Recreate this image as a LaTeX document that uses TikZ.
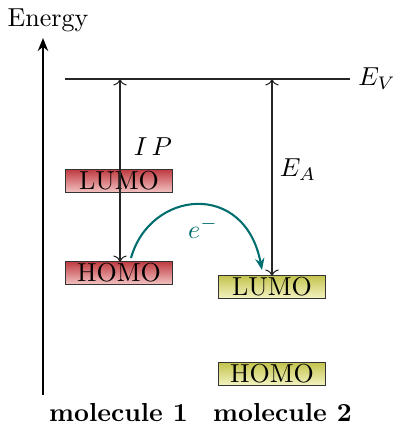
\documentclass[tikz,border=0pt]{standalone}
\usetikzlibrary{arrows.meta}
\definecolor{redtop}{RGB}{192,62,68}
\definecolor{redbot}{RGB}{242,192,192}
\definecolor{yeltop}{RGB}{196,196,80}
\definecolor{yelbot}{RGB}{242,242,192}
\definecolor{eteal}{RGB}{0,110,110}
\tikzset{
  level/.style={draw=black!80, minimum width=41.5pt, minimum height=8.5pt, inner sep=0pt, outer sep=0pt},
  redlevel/.style={level, top color=redtop, bottom color=redbot},
  yellevel/.style={level, top color=yeltop, bottom color=yelbot},
  gap/.style={<->, thin, black!85},
}
\begin{document}
\begin{tikzpicture}[x=0.3846pt, y=-0.3846pt]
\useasboundingbox (0,0) rectangle (393,427);
% energy axis
\coordinate (axb) at (43,395);
\coordinate (axt) at (43,38);
\draw[thick, -{Stealth[length=5pt,width=4pt]}] (axb) -- (axt);
\node (energy) at (48,20) {Energy};
% vacuum level
\coordinate (evl) at (65,79);
\coordinate (evr) at (350,79);
\draw[thin, black!85] (evl) -- (evr);
\node (ev) at (377,79) {$E_V$};
% levels
\node[redlevel] (lumo1) at (119,181) {LUMO};
\node[redlevel] (homo1) at (119,273) {HOMO};
\node[yellevel] (lumo2) at (272,287) {LUMO};
\node[yellevel] (homo2) at (272,374) {HOMO};
% IP and EA
\coordinate (ipt) at (120,79);
\coordinate (eat) at (272,79);
\draw[gap] (homo1.north -| ipt) -- (ipt);
\draw[gap] (lumo2.north) -- (eat);
\node (ip) at (153,147) {$I\,P$};
\node (ea) at (298,170) {$E_A$};
% electron transfer
\coordinate (es) at (131,258);
\coordinate (ee) at (262,270);
\draw[eteal, line width=0.8pt, -{Stealth[length=4.5pt,width=3.5pt]}] (es) .. controls (150,190) and (245,180) .. (ee);
\node[text=eteal] (el) at (203,228) {$e^-$};
% molecule labels
\node (m1) at (118.5,413) {\bfseries molecule 1};
\node (m2) at (282.5,413) {\bfseries molecule 2};
\end{tikzpicture}
\end{document}
